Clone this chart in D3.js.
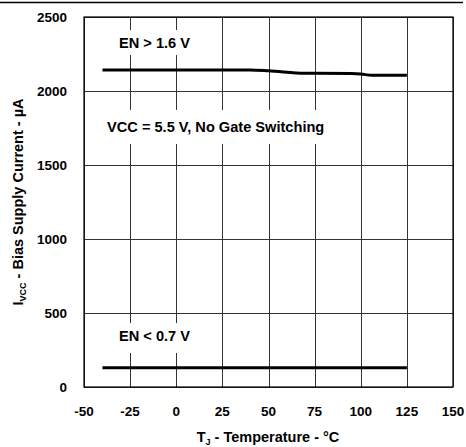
<!DOCTYPE html>
<html><head><meta charset="utf-8">
<script src="https://cdn.jsdelivr.net/npm/d3@7"></script>
<style>body{margin:0;background:#fff}svg{display:block}text{font-family:"Liberation Sans",Arial,sans-serif;font-weight:bold;fill:#000}</style>
</head><body>
<script>
const tempHigh = [-40, -25, 0, 25, 40, 50, 70, 75, 95, 100, 106, 125];
const currHigh = [2142, 2142, 2142, 2142, 2142, 2137, 2120, 2120, 2118, 2115, 2106, 2106];
const tempLow = [-40, -25, 0, 25, 50, 75, 100, 125];
const currLow = [130, 130, 130, 130, 130, 130, 130, 130];
const xTicks = [-50, -25, 0, 25, 50, 75, 100, 125, 150];
const yTicks = [0, 500, 1000, 1500, 2000, 2500];

const W = 466, H = 447;
const m = {l: 84, r: 13, t: 17, b: 60};
const svg = d3.select("body").append("svg").attr("width", W).attr("height", H);
const x = d3.scaleLinear().domain([-50, 150]).range([m.l, W - m.r]);
const y = d3.scaleLinear().domain([0, 2500]).range([H - m.b, m.t]);

// top border line
svg.append("line").attr("x1", 0).attr("x2", 463).attr("y1", 2.5).attr("y2", 2.5)
  .attr("stroke", "#000").attr("stroke-width", 1.5);

const g = svg.append("g");
// gridlines
g.selectAll(".vg").data(xTicks).join("line")
  .attr("x1", d => Math.round(x(d)) + 0.5).attr("x2", d => Math.round(x(d)) + 0.5)
  .attr("y1", y(0)).attr("y2", y(2500)).attr("stroke", "#333").attr("stroke-width", 1);
g.selectAll(".hg").data(yTicks).join("line")
  .attr("y1", d => Math.round(y(d)) + 0.5).attr("y2", d => Math.round(y(d)) + 0.5)
  .attr("x1", x(-50)).attr("x2", x(150)).attr("stroke", "#333").attr("stroke-width", 1);

// label boxes (white) to break gridlines
const labels = [
  {t: "EN > 1.6 V", x: -31, v: 2322, bx0: -33, bx1: 12, b0: 2412, b1: 2243},
  {t: "VCC = 5.5 V, No Gate Switching", x: -37.5, v: 1757, bx0: -40, bx1: 85, b0: 1872, b1: 1642},
  {t: "EN < 0.7 V", x: -31, v: 343, bx0: -33, bx1: 12, b0: 432, b1: 230}
];
g.selectAll(".box").data(labels).join("rect")
  .attr("x", d => x(d.bx0)).attr("width", d => x(d.bx1) - x(d.bx0))
  .attr("y", d => y(d.b0)).attr("height", d => y(d.b1) - y(d.b0))
  .attr("fill", "#fff");
g.selectAll(".lbl").data(labels).join("text")
  .attr("x", d => x(d.x)).attr("y", d => y(d.v)).attr("dy", "0.35em")
  .attr("font-size", 14.6).text(d => d.t);

// plot frame
g.append("rect").attr("x", x(-50)).attr("y", y(2500)).attr("width", x(150) - x(-50))
  .attr("height", y(0) - y(2500)).attr("fill", "none").attr("stroke", "#000").attr("stroke-width", 1.2);

// data lines
const line = d3.line().x(d => x(d[0])).y(d => y(d[1])).curve(d3.curveMonotoneX);
svg.append("path").datum(tempHigh.map((t, i) => [t, currHigh[i]]))
  .attr("d", line).attr("fill", "none").attr("stroke", "#000").attr("stroke-width", 3);
svg.append("path").datum(tempLow.map((t, i) => [t, currLow[i]]))
  .attr("d", line).attr("fill", "none").attr("stroke", "#000").attr("stroke-width", 3);

// axes labels
svg.selectAll(".xt").data(xTicks).join("text")
  .attr("x", d => x(d)).attr("y", 416).attr("text-anchor", "middle")
  .attr("font-size", 13.5).text(d => d);
svg.selectAll(".yt").data(yTicks).join("text")
  .attr("x", 67).attr("y", d => y(d)).attr("dy", "0.35em").attr("text-anchor", "end")
  .attr("font-size", 13.5).text(d => d);

// x title
const xt = svg.append("text").attr("x", 268).attr("y", 442).attr("text-anchor", "middle").attr("font-size", 14.5);
xt.append("tspan").text("T");
xt.append("tspan").attr("font-size", 9).attr("dy", 3).text("J");
xt.append("tspan").attr("dy", -3).text(" - Temperature - °C");

// y title
const yt = svg.append("text").attr("transform", `translate(23,${(y(0) + y(2500)) / 2}) rotate(-90)`)
  .attr("text-anchor", "middle").attr("font-size", 14.5);
yt.append("tspan").text("I");
yt.append("tspan").attr("font-size", 9).attr("dy", 3).text("VCC");
yt.append("tspan").attr("dy", -3).text(" - Bias Supply Current - µA");
</script>
</body></html>
